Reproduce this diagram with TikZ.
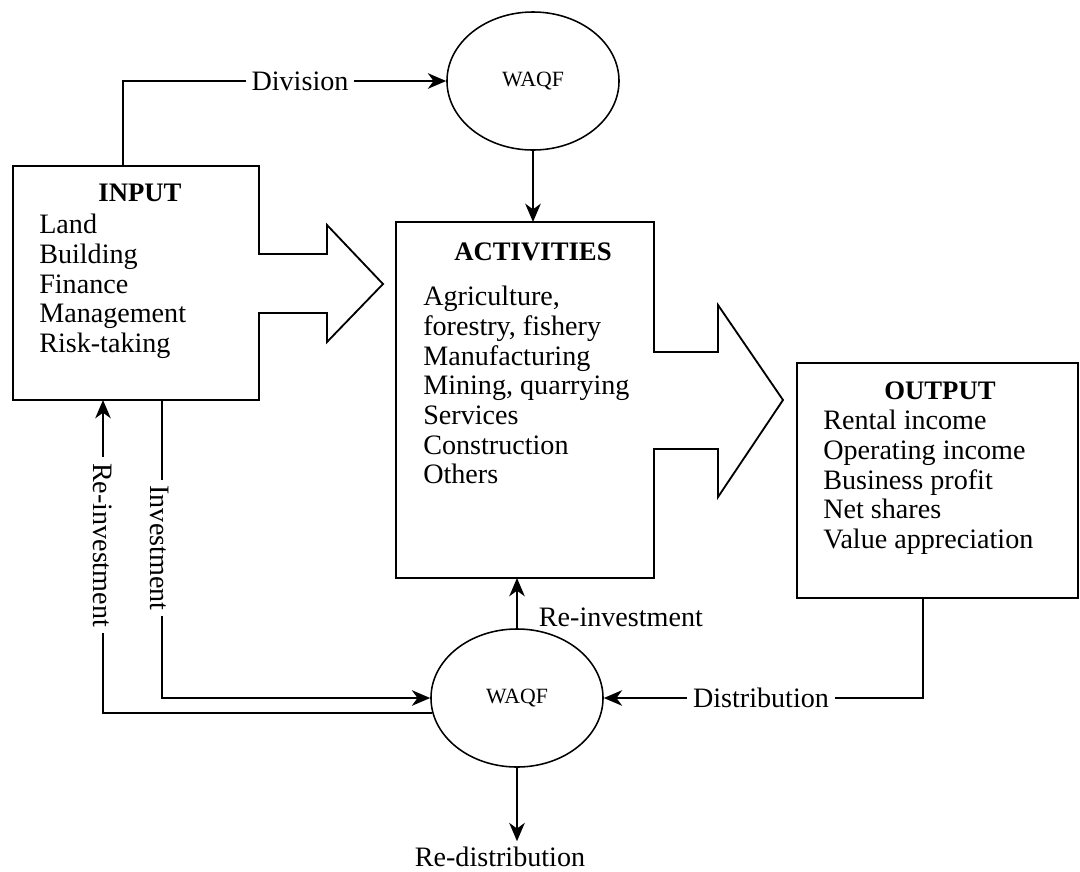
\documentclass[tikz,border=0pt]{standalone}
\usepackage{fontspec}
\setmainfont{Liberation Serif}
\usetikzlibrary{arrows.meta,shapes.geometric}

\begin{document}
\begin{tikzpicture}[x=0.025cm, y=-0.025cm, line join=miter,
    flow/.style = {line width=1.7pt},
    arr/.style = {flow, -{Stealth[length=13pt, width=11pt, inset=4pt]}},
    outline/.style = {line width=1.3pt},
    waqf/.style = {draw, ellipse, line width=1.1pt, minimum width=4.3cm, minimum height=3.45cm, inner sep=0pt, font=\fontsize{15.5}{17}\selectfont},
    head/.style = {font=\fontsize{19}{21}\selectfont\bfseries},
    list/.style = {align=left, inner sep=0pt, font=\fontsize{20}{21.1}\selectfont},
    lbl/.style = {inner sep=4pt, font=\fontsize{20}{22}\selectfont}]

  \useasboundingbox (0,0) rectangle (1080,871);

  % boxes with their big arrows
  \draw[outline] (13,166) -- (259,166) -- (259,254) -- (327,254) -- (327,225) -- (383,284)
    -- (327,342) -- (327,313) -- (259,313) -- (259,400) -- (13,400) -- cycle;
  \draw[outline] (396,222) -- (654,222) -- (654,352) -- (718,352) -- (718,305) -- (783,400)
    -- (718,497) -- (718,449) -- (654,449) -- (654,578) -- (396,578) -- cycle;
  \draw[outline] (797,363) rectangle (1078,598);

  \coordinate (inN) at (123,166);
  \coordinate (inS1) at (103,400);
  \coordinate (inS2) at (162,400);
  \coordinate (actN) at (533,222);
  \coordinate (actS) at (517,578);
  \coordinate (outS) at (923,598);

  % box texts
  \node[head] (inHead) at (140,193) {INPUT};
  \node[list, anchor=north west] (inList) at (39,214) {Land\\Building\\Finance\\Management\\Risk-taking};
  \node[head] (actHead) at (533,252) {ACTIVITIES};
  \node[list, anchor=north west] (actList) at (423,286) {Agriculture,\\forestry, fishery\\Manufacturing\\Mining, quarrying\\Services\\Construction\\Others};
  \node[head] (outHead) at (940,391) {OUTPUT};
  \node[list, anchor=north west] (outList) at (823,410) {Rental income\\Operating income\\Business profit\\Net shares\\Value appreciation};

  % waqf
  \node[waqf] (waqfT) at (533,81) {WAQF};
  \node[waqf] (waqfB) at (517,698) {WAQF};

  % labels
  \node[lbl] (division) at (300,81) {Division};
  \node[lbl, anchor=west] (reinvUp) at (533,617) {Re-investment};
  \node[lbl] (distrib) at (761,698) {Distribution};
  \node[lbl, rotate=-90] (invest) at (160,548) {Investment};
  \node[lbl, rotate=-90] (reinvL) at (103,545) {Re-investment};
  \node[lbl] (redist) at (500,857) {Re-distribution};

  % connectors
  \draw[flow] (inN) |- (division.west);
  \draw[arr] (division.east) -- (waqfT.west);
  \draw[arr] (waqfT.south) -- (actN);
  \draw[arr] (waqfB.north) -- (actS);
  \draw[flow] (outS) |- (distrib.east);
  \draw[arr] (distrib.west) -- (waqfB.east);
  \draw[flow] (inS2) -- (inS2 |- invest.west);
  \draw[arr] (inS2 |- invest.east) |- (waqfB.west);
  \draw[arr] (reinvL.west) -- (inS1);
  \draw[flow] (reinvL.east) |- (waqfB.190);
  \draw[arr] (waqfB.south) -- (waqfB.south |- redist.north);
\end{tikzpicture}
\end{document}
